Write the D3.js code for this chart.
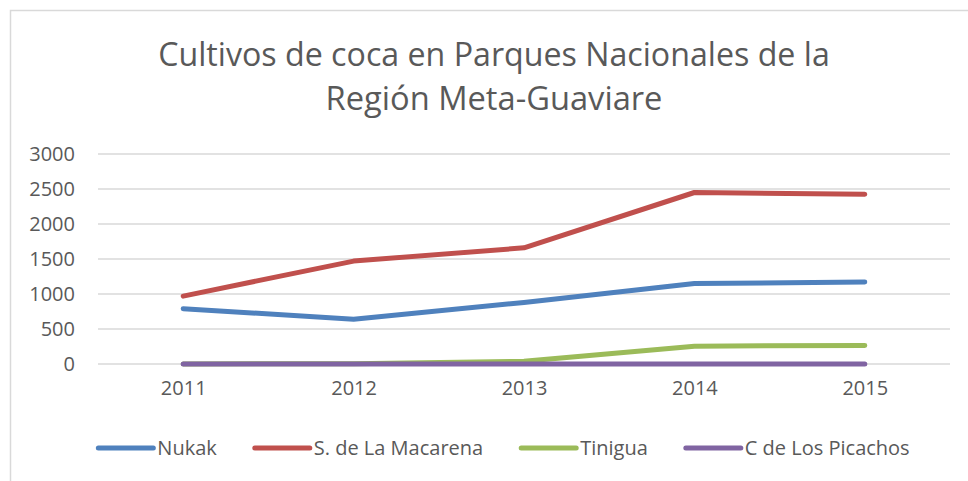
<html>
<head>
<script src="https://d3js.org/d3.v7.min.js"></script>
<style>
  body { margin: 0; background: #fff; }
  text { font-family: "Open Sans", "DejaVu Sans", sans-serif; fill: #595959; }
</style>
</head>
<body>
<svg id="chart" width="968" height="481"></svg>
<script>
// data
const years = ["2011", "2012", "2013", "2014", "2015"];
const seriesNames = ["Nukak", "S. de La Macarena", "Tinigua", "C de Los Picachos"];
const nukak = [790, 640, 880, 1150, 1170];
const macarena = [970, 1470, 1660, 2450, 2425];
const tinigua = [0, 5, 40, 255, 265];
const picachos = [0, 0, 0, 0, 0];
const yTicks = [0, 500, 1000, 1500, 2000, 2500, 3000];
const colors = ["#4f81bd", "#c0504d", "#9bbb59", "#8064a2"];
const titleLines = ["Cultivos de coca en Parques Nacionales de la", "Región Meta-Guaviare"];

const svg = d3.select("#chart");
const values = [nukak, macarena, tinigua, picachos];

// chart border
svg.append("rect")
  .attr("x", 10.5).attr("y", 10.5)
  .attr("width", 968).attr("height", 481)
  .style("fill", "none").style("stroke", "#d9d9d9").style("stroke-width", 1.5);

const x = d3.scalePoint().domain(years).range([98, 950]).padding(0.5);
const y = d3.scaleLinear().domain([0, 3000]).range([364, 154]);

// title, fitted to the width of the original lines
const titleWidths = [672, 337];
titleLines.forEach((t, i) => {
  const tx = svg.append("text")
    .attr("x", 494).attr("y", i == 0 ? 66 : 110)
    .attr("text-anchor", "middle")
    .style("font-size", "31px")
    .text(t);
  const w = tx.node().getComputedTextLength();
  tx.style("font-size", (31 * titleWidths[i] / w).toFixed(2) + "px");
});

// gridlines
svg.append("g").selectAll("line").data(yTicks)
  .join("line")
  .attr("x1", 98).attr("x2", 950)
  .attr("y1", d => y(d)).attr("y2", d => y(d))
  .style("stroke", "#d9d9d9").style("stroke-width", 1.5);

// y axis labels
const yAxis = svg.append("g")
  .attr("transform", "translate(75,0)")
  .call(d3.axisLeft(y).tickValues(yTicks).tickFormat(d3.format("d")).tickSize(0).tickPadding(0));
yAxis.select(".domain").remove();
yAxis.selectAll("text").style("font-size", "20px").style("fill", "#595959").style("font-family", "'Open Sans', sans-serif");

// x axis labels
const xAxis = svg.append("g")
  .attr("transform", "translate(0,381)")
  .call(d3.axisBottom(x).tickSize(0).tickPadding(0));
xAxis.select(".domain").remove();
xAxis.selectAll("text").style("font-size", "20px").style("fill", "#595959").style("font-family", "'Open Sans', sans-serif");

// lines
const line = d3.line().x((d, i) => x(years[i])).y(d => y(d));
svg.append("g").selectAll("path").data(values)
  .join("path")
  .attr("d", line)
  .style("fill", "none")
  .style("stroke", (d, i) => colors[i])
  .style("stroke-width", 5)
  .style("stroke-linecap", "round")
  .style("stroke-linejoin", "round");

// legend
const gap = 38;
const legend = svg.append("g");
const items = legend.selectAll("g").data(seriesNames).join("g");
items.append("line")
  .attr("x1", 0).attr("x2", 55).attr("y1", 448).attr("y2", 448)
  .style("stroke", (d, i) => colors[i])
  .style("stroke-width", 5)
  .style("stroke-linecap", "round");
items.append("text")
  .attr("x", 59).attr("y", 455)
  .style("font-size", "20px")
  .text(d => d);
let pos = 0;
const offsets = [];
items.each(function () {
  offsets.push(pos);
  pos += 59 + d3.select(this).select("text").node().getComputedTextLength() + gap;
});
const total = pos - gap;
const start = 504 - total / 2;
items.attr("transform", (d, i) => `translate(${start + offsets[i]},0)`);
</script>
</body>
</html>
